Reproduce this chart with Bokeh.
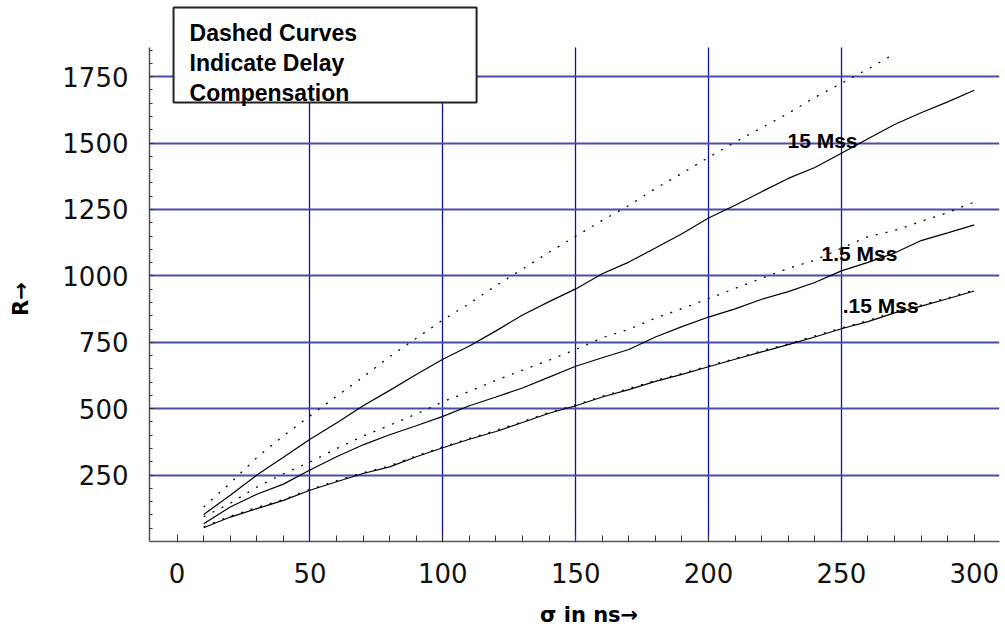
from bokeh.plotting import figure
from bokeh.models import FixedTicker, Label, Range1d, BoxAnnotation
from bokeh.embed import file_html
from bokeh.resources import INLINE

NaN = float("nan")

# ---- data ----
sigma_ns = [10, 20, 30, 40, 50, 60, 70, 80, 90, 100, 110, 120, 130, 140, 150,
            160, 170, 180, 190, 200, 210, 220, 230, 240, 250, 260, 270, 280, 290, 300]

r_15_solid = [102, 174, 250, 317, 385, 446, 511, 569, 629, 686, 736, 793, 853, 903, 951,
              1008, 1052, 1105, 1159, 1218, 1266, 1317, 1367, 1408, 1462, 1516, 1570, 1614, 1655, 1699]
# the dashed 15 Mss curve leaves the plotted area after ~275 ns
r_15_dashed = [130, 220, 316, 398, 473, 547, 619, 696, 765, 834, 896, 963, 1026, 1089, 1149,
               1209, 1265, 1329, 1386, 1446, 1504, 1558, 1612, 1672, 1725, 1779, 1836, NaN, NaN, NaN]
r_1_5_solid = [67, 130, 178, 216, 269, 319, 364, 402, 436, 471, 511, 544, 578, 619, 660,
               692, 723, 770, 809, 845, 876, 912, 941, 975, 1019, 1051, 1086, 1133, 1162, 1192]
r_1_5_dashed = [93, 144, 205, 255, 299, 350, 397, 438, 480, 526, 565, 607, 645, 683, 723,
                767, 799, 841, 877, 914, 953, 991, 1028, 1059, 1104, 1148, 1171, 1205, 1238, 1278]
r_015_solid = [52, 92, 124, 155, 193, 225, 256, 281, 319, 353, 385, 414, 448, 483, 511,
               544, 572, 603, 629, 658, 686, 714, 741, 770, 801, 828, 861, 886, 914, 943]
r_015_dashed = [55, 95, 128, 158, 196, 229, 259, 285, 322, 356, 388, 418, 451, 486, 514,
                547, 576, 606, 633, 661, 689, 718, 744, 774, 804, 832, 864, 890, 917, 947]

x_ticks = [0, 50, 100, 150, 200, 250, 300]
y_ticks = [250, 500, 750, 1000, 1250, 1500, 1750]
x_grid = [50, 100, 150, 200, 250]
y_axis_top = 1860

curve_labels = ["15 Mss", "1.5 Mss", ".15 Mss"]
note_text = "Dashed Curves\nIndicate Delay\nCompensation"
x_title = "σ in ns→"
y_title = "R→"

NBSP = "\u00a0"

# ---- figure ----
p = figure(frame_width=850, frame_height=536,
           x_range=Range1d(-10.4, 309.5), y_range=Range1d(0, 2018),
           output_backend="svg", toolbar_location=None,
           min_border_left=149, min_border_right=3,
           min_border_top=5, min_border_bottom=82)
p.outline_line_color = None
p.background_fill_color = "white"
p.border_fill_color = "white"

# grid
p.ygrid.ticker = FixedTicker(ticks=y_ticks)
p.ygrid.grid_line_color = "#4c4cac"
p.ygrid.grid_line_width = 2
xg = p.xgrid[0]
if "cross_bounds" in xg.properties():
    xg.ticker = FixedTicker(ticks=x_grid)
    xg.cross_bounds = (0, y_axis_top)
    xg.grid_line_color = "#1212a0"
    xg.grid_line_width = 1.3
else:
    xg.visible = False
    p.segment(x0=x_grid, y0=[0] * len(x_grid), x1=x_grid, y1=[y_axis_top] * len(x_grid),
              line_color="#1212a0", line_width=1.3)

# axes
p.xaxis.ticker = FixedTicker(ticks=x_ticks, minor_ticks=list(range(0, 310, 10)))
p.yaxis.ticker = FixedTicker(ticks=y_ticks, minor_ticks=list(range(50, y_axis_top, 50)))
p.yaxis.bounds = (0, y_axis_top)
for ax in (p.xaxis, p.yaxis):
    ax.axis_line_color = "#555555"
    ax.axis_line_width = 1.5
    ax.major_tick_out = 0
    ax.minor_tick_out = 0
    ax.major_tick_line_color = "#333333"
    ax.minor_tick_line_color = "#333333"
    ax.major_label_text_font = "DejaVu Sans"
    ax.major_label_text_font_size = "26px"
    ax.major_label_text_color = "#111111"
    ax.axis_label_text_font = "DejaVu Sans"
    ax.axis_label_text_font_style = "bold"
    ax.axis_label_text_font_size = "21px"
    ax.axis_label_text_color = "black"
p.xaxis.major_tick_in = 7
p.xaxis.minor_tick_in = 6
p.yaxis.major_tick_in = 4
p.yaxis.minor_tick_in = 3
p.xaxis.major_label_standoff = 21
p.yaxis.major_label_standoff = 21
# non-breaking spaces only nudge the titles to the reference's off-centre spots
p.xaxis.axis_label = NBSP * 4 + x_title
p.yaxis.axis_label = y_title + NBSP * 7
p.xaxis.axis_label_standoff = 17
p.yaxis.axis_label_standoff = 26

# curves
for solid, dashed in ((r_15_solid, r_15_dashed),
                      (r_1_5_solid, r_1_5_dashed),
                      (r_015_solid, r_015_dashed)):
    p.line(sigma_ns, solid, line_color="black", line_width=1.2)
    p.line(sigma_ns, dashed, line_color="black", line_width=1.3, line_dash="2 8")

# curve labels
label_pos = [(229.7, 1509), (242.5, 1085), (250.5, 889)]
for txt, (lx, ly) in zip(curve_labels, label_pos):
    p.add_layout(Label(x=lx, y=ly, text=txt, text_font="Liberation Sans",
                       text_font_style="bold", text_font_size="21px",
                       text_baseline="middle", text_align="left", text_color="black"))

# note box and its text
p.add_layout(BoxAnnotation(left=-1.35, right=112.7, top=2010, bottom=1653,
                           fill_color="white", fill_alpha=1.0,
                           line_color="#222222", line_width=2, line_alpha=1.0))
p.add_layout(Label(x=4.67, y=1965, text=note_text, text_color="black",
                   text_font="Liberation Sans", text_font_style="bold", text_font_size="23px",
                   text_baseline="top", text_align="left", text_line_height=1.17))

open("out.html", "w").write(file_html(p, INLINE))
